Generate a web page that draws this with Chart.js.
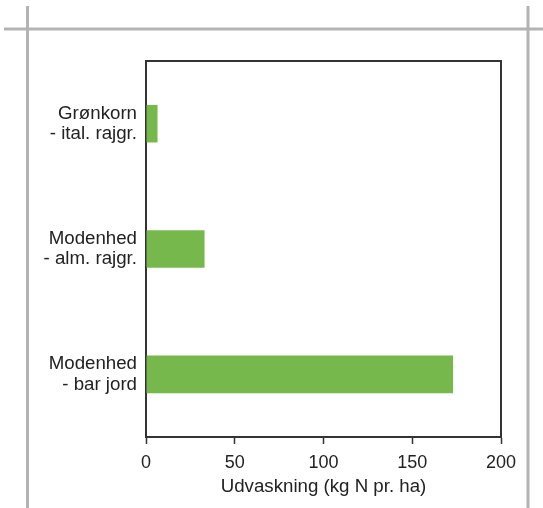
<!DOCTYPE html>
<html>
<head>
<meta charset="utf-8">
<script src="https://cdn.jsdelivr.net/npm/chart.js@4/dist/chart.umd.min.js"></script>
<style>
  html, body { margin: 0; padding: 0; background: #fff; }
  #wrap { width: 543px; height: 508px; position: relative; }
</style>
</head>
<body>
<div id="wrap"><canvas id="leachChart" width="543" height="508"></canvas></div>
<script>
// data
const categories = [
    ['Grønkorn', '- ital. rajgr.'],
    ['Modenhed', '- alm. rajgr.'],
    ['Modenhed', '- bar jord']
];
const leaching = [6.5, 33, 173];
const xTicks = [0, 50, 100, 150, 200];
const xTitle = 'Udvaskning (kg N pr. ha)';

const BAR_GREEN = '#77b84d';
const AXIS_DARK = '#333333';
const FONT = 'Liberation Sans, Arial, Helvetica, sans-serif';

// gray frame lines of the page + top/right border of the plot
const framePlugin = {
    id: 'frame',
    beforeDraw(chart) {
        const ctx = chart.ctx;
        ctx.save();
        ctx.strokeStyle = '#b3b3b3';
        ctx.lineWidth = 3;
        ctx.beginPath();
        ctx.moveTo(4, 29); ctx.lineTo(543, 29);
        ctx.moveTo(27.5, 6); ctx.lineTo(27.5, 508);
        ctx.moveTo(528, 6); ctx.lineTo(528, 508);
        ctx.stroke();
        ctx.restore();
    },
    afterDraw(chart) {
        const { ctx, chartArea: a } = chart;
        ctx.save();
        ctx.strokeStyle = AXIS_DARK;
        ctx.lineWidth = 2;
        ctx.beginPath();
        ctx.moveTo(a.left, a.top);
        ctx.lineTo(a.right, a.top);
        ctx.lineTo(a.right, a.bottom);
        ctx.stroke();
        ctx.restore();
    }
};

new Chart(document.getElementById('leachChart'), {
    type: 'bar',
    data: {
        labels: categories,
        datasets: [{
            data: leaching,
            backgroundColor: BAR_GREEN,
            borderWidth: 0,
            barPercentage: 0.3,
            categoryPercentage: 1.0
        }]
    },
    options: {
        indexAxis: 'y',
        responsive: false,
        animation: false,
        layout: { padding: { left: 0, right: 42, top: 61, bottom: 0 } },
        plugins: {
            legend: { display: false },
            tooltip: { enabled: false }
        },
        scales: {
            x: {
                min: 0,
                max: 200,
                afterBuildTicks(axis) {
                    axis.ticks = xTicks.map(v => ({ value: v }));
                },
                afterFit(axis) { axis.height = 71; },
                border: { color: AXIS_DARK, width: 2 },
                grid: {
                    drawOnChartArea: false,
                    drawTicks: true,
                    tickLength: 7,
                    color: AXIS_DARK,
                    tickWidth: 1.5
                },
                ticks: {
                    color: '#222',
                    padding: 8,
                    maxRotation: 0,
                    font: { family: FONT, size: 18 }
                },
                title: {
                    display: true,
                    text: xTitle,
                    color: '#222',
                    padding: { top: 0, bottom: 10 },
                    font: { family: FONT, size: 18.7 }
                }
            },
            y: {
                afterFit(axis) { axis.width = 146; },
                border: { color: AXIS_DARK, width: 2 },
                grid: { display: false, drawTicks: false },
                ticks: {
                    color: '#222',
                    padding: 9,
                    font: { family: FONT, size: 18.7, lineHeight: 1.1 }
                }
            }
        }
    },
    plugins: [framePlugin]
});
</script>
</body>
</html>
